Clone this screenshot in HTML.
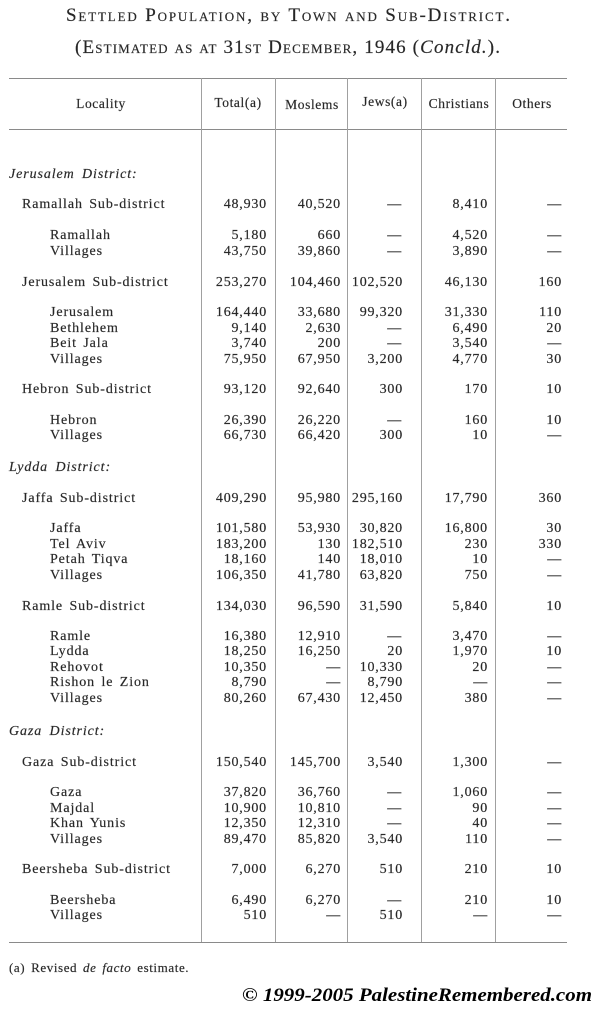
<!DOCTYPE html>
<html><head><meta charset="utf-8">
<style>
html,body{margin:0;padding:0;background:#fff;}
svg{display:block;}
.t{font-family:"Liberation Serif",serif;fill:#262626;stroke:#3a3a3a;stroke-width:0.2px;}
.n{font-size:14px;letter-spacing:0.8px;text-anchor:end;}
.l{font-size:14px;letter-spacing:0.9px;word-spacing:2px;}
.d{font-size:14px;letter-spacing:0.9px;font-style:italic;word-spacing:3px;}
.h{font-size:13.5px;letter-spacing:0.6px;text-anchor:middle;}
</style></head>
<body>
<svg width="601" height="1015" viewBox="0 0 601 1015" xmlns="http://www.w3.org/2000/svg">
<rect width="601" height="1015" fill="#fff"/>
<!-- Title -->
<text class="t" x="66" y="21" font-size="19" style="font-variant:small-caps" textLength="444" lengthAdjust="spacing">Settled Population, by Town and Sub-District.</text>
<text class="t" x="75" y="53" font-size="19" textLength="425" lengthAdjust="spacing"><tspan style="font-variant:small-caps">(Estimated as at 31st December, 1946 (</tspan><tspan font-style="italic">Concld.</tspan>).</text>
<!-- Rules -->
<g stroke="#8a8a8a" stroke-width="1">
<line x1="9" y1="78.5" x2="567" y2="78.5"/>
<line x1="9" y1="129.5" x2="567" y2="129.5"/>
<line x1="9" y1="942.5" x2="567" y2="942.5"/>
</g>
<g stroke="#a0a0a0" stroke-width="1">
<line x1="201.5" y1="78" x2="201.5" y2="942"/>
<line x1="275.5" y1="78" x2="275.5" y2="942"/>
<line x1="347.5" y1="78" x2="347.5" y2="942"/>
<line x1="421.5" y1="78" x2="421.5" y2="942"/>
<line x1="495.5" y1="78" x2="495.5" y2="942"/>
</g>
<!-- Header -->
<g class="t h">
<text x="101" y="108">Locality</text>
<text x="238" y="107">Total(a)</text>
<text x="312" y="109">Moslems</text>
<text x="385" y="106">Jews(a)</text>
<text x="459" y="108">Christians</text>
<text x="532" y="108">Others</text>
</g>
<!-- Districts -->
<g class="t d">
<text x="9" y="178">Jerusalem District:</text>
<text x="9" y="471">Lydda District:</text>
<text x="9" y="735">Gaza District:</text>
</g>
<!-- Locality labels -->
<g class="t l">
<text x="22" y="208">Ramallah Sub-district</text>
<text x="50" y="239">Ramallah</text>
<text x="50" y="255">Villages</text>
<text x="22" y="286">Jerusalem Sub-district</text>
<text x="50" y="316">Jerusalem</text>
<text x="50" y="332">Bethlehem</text>
<text x="50" y="347">Beit Jala</text>
<text x="50" y="363">Villages</text>
<text x="22" y="393">Hebron Sub-district</text>
<text x="50" y="424">Hebron</text>
<text x="50" y="439">Villages</text>
<text x="22" y="502">Jaffa Sub-district</text>
<text x="50" y="532">Jaffa</text>
<text x="50" y="548">Tel Aviv</text>
<text x="50" y="563">Petah Tiqva</text>
<text x="50" y="579">Villages</text>
<text x="22" y="610">Ramle Sub-district</text>
<text x="50" y="640">Ramle</text>
<text x="50" y="655">Lydda</text>
<text x="50" y="671">Rehovot</text>
<text x="50" y="686">Rishon le Zion</text>
<text x="50" y="702">Villages</text>
<text x="22" y="766">Gaza Sub-district</text>
<text x="50" y="796">Gaza</text>
<text x="50" y="812">Majdal</text>
<text x="50" y="827">Khan Yunis</text>
<text x="50" y="843">Villages</text>
<text x="22" y="873">Beersheba Sub-district</text>
<text x="50" y="904">Beersheba</text>
<text x="50" y="919">Villages</text>
</g>
<!-- Numbers -->
<g class="t n">
<text x="267" y="208">48,930</text><text x="341" y="208">40,520</text><text x="402" y="208">—</text><text x="488" y="208">8,410</text><text x="562" y="208">—</text>
<text x="267" y="239">5,180</text><text x="341" y="239">660</text><text x="402" y="239">—</text><text x="488" y="239">4,520</text><text x="562" y="239">—</text>
<text x="267" y="255">43,750</text><text x="341" y="255">39,860</text><text x="402" y="255">—</text><text x="488" y="255">3,890</text><text x="562" y="255">—</text>
<text x="267" y="286">253,270</text><text x="341" y="286">104,460</text><text x="403" y="286">102,520</text><text x="488" y="286">46,130</text><text x="562" y="286">160</text>
<text x="267" y="316">164,440</text><text x="341" y="316">33,680</text><text x="403" y="316">99,320</text><text x="488" y="316">31,330</text><text x="562" y="316">110</text>
<text x="267" y="332">9,140</text><text x="341" y="332">2,630</text><text x="402" y="332">—</text><text x="488" y="332">6,490</text><text x="562" y="332">20</text>
<text x="267" y="347">3,740</text><text x="341" y="347">200</text><text x="402" y="347">—</text><text x="488" y="347">3,540</text><text x="562" y="347">—</text>
<text x="267" y="363">75,950</text><text x="341" y="363">67,950</text><text x="403" y="363">3,200</text><text x="488" y="363">4,770</text><text x="562" y="363">30</text>
<text x="267" y="393">93,120</text><text x="341" y="393">92,640</text><text x="403" y="393">300</text><text x="488" y="393">170</text><text x="562" y="393">10</text>
<text x="267" y="424">26,390</text><text x="341" y="424">26,220</text><text x="402" y="424">—</text><text x="488" y="424">160</text><text x="562" y="424">10</text>
<text x="267" y="439">66,730</text><text x="341" y="439">66,420</text><text x="403" y="439">300</text><text x="488" y="439">10</text><text x="562" y="439">—</text>
<text x="267" y="502">409,290</text><text x="341" y="502">95,980</text><text x="403" y="502">295,160</text><text x="488" y="502">17,790</text><text x="562" y="502">360</text>
<text x="267" y="532">101,580</text><text x="341" y="532">53,930</text><text x="403" y="532">30,820</text><text x="488" y="532">16,800</text><text x="562" y="532">30</text>
<text x="267" y="548">183,200</text><text x="341" y="548">130</text><text x="403" y="548">182,510</text><text x="488" y="548">230</text><text x="562" y="548">330</text>
<text x="267" y="563">18,160</text><text x="341" y="563">140</text><text x="403" y="563">18,010</text><text x="488" y="563">10</text><text x="562" y="563">—</text>
<text x="267" y="579">106,350</text><text x="341" y="579">41,780</text><text x="403" y="579">63,820</text><text x="488" y="579">750</text><text x="562" y="579">—</text>
<text x="267" y="610">134,030</text><text x="341" y="610">96,590</text><text x="403" y="610">31,590</text><text x="488" y="610">5,840</text><text x="562" y="610">10</text>
<text x="267" y="640">16,380</text><text x="341" y="640">12,910</text><text x="402" y="640">—</text><text x="488" y="640">3,470</text><text x="562" y="640">—</text>
<text x="267" y="655">18,250</text><text x="341" y="655">16,250</text><text x="403" y="655">20</text><text x="488" y="655">1,970</text><text x="562" y="655">10</text>
<text x="267" y="671">10,350</text><text x="341" y="671">—</text><text x="403" y="671">10,330</text><text x="488" y="671">20</text><text x="562" y="671">—</text>
<text x="267" y="686">8,790</text><text x="341" y="686">—</text><text x="403" y="686">8,790</text><text x="488" y="686">—</text><text x="562" y="686">—</text>
<text x="267" y="702">80,260</text><text x="341" y="702">67,430</text><text x="403" y="702">12,450</text><text x="488" y="702">380</text><text x="562" y="702">—</text>
<text x="267" y="766">150,540</text><text x="341" y="766">145,700</text><text x="403" y="766">3,540</text><text x="488" y="766">1,300</text><text x="562" y="766">—</text>
<text x="267" y="796">37,820</text><text x="341" y="796">36,760</text><text x="402" y="796">—</text><text x="488" y="796">1,060</text><text x="562" y="796">—</text>
<text x="267" y="812">10,900</text><text x="341" y="812">10,810</text><text x="402" y="812">—</text><text x="488" y="812">90</text><text x="562" y="812">—</text>
<text x="267" y="827">12,350</text><text x="341" y="827">12,310</text><text x="402" y="827">—</text><text x="488" y="827">40</text><text x="562" y="827">—</text>
<text x="267" y="843">89,470</text><text x="341" y="843">85,820</text><text x="403" y="843">3,540</text><text x="488" y="843">110</text><text x="562" y="843">—</text>
<text x="267" y="873">7,000</text><text x="341" y="873">6,270</text><text x="403" y="873">510</text><text x="488" y="873">210</text><text x="562" y="873">10</text>
<text x="267" y="904">6,490</text><text x="341" y="904">6,270</text><text x="402" y="904">—</text><text x="488" y="904">210</text><text x="562" y="904">10</text>
<text x="267" y="919">510</text><text x="341" y="919">—</text><text x="403" y="919">510</text><text x="488" y="919">—</text><text x="562" y="919">—</text>
</g>
<!-- Footnote -->
<text class="t" x="9" y="972" font-size="13" letter-spacing="0.6" word-spacing="2">(a) Revised <tspan font-style="italic">de facto</tspan> estimate.</text>
<!-- Copyright -->
<text x="242" y="1001" font-family="Liberation Serif, serif" font-size="19" font-weight="bold" font-style="italic" fill="#000" textLength="350" lengthAdjust="spacingAndGlyphs">© 1999-2005 PalestineRemembered.com</text>
</svg>
</body></html>
